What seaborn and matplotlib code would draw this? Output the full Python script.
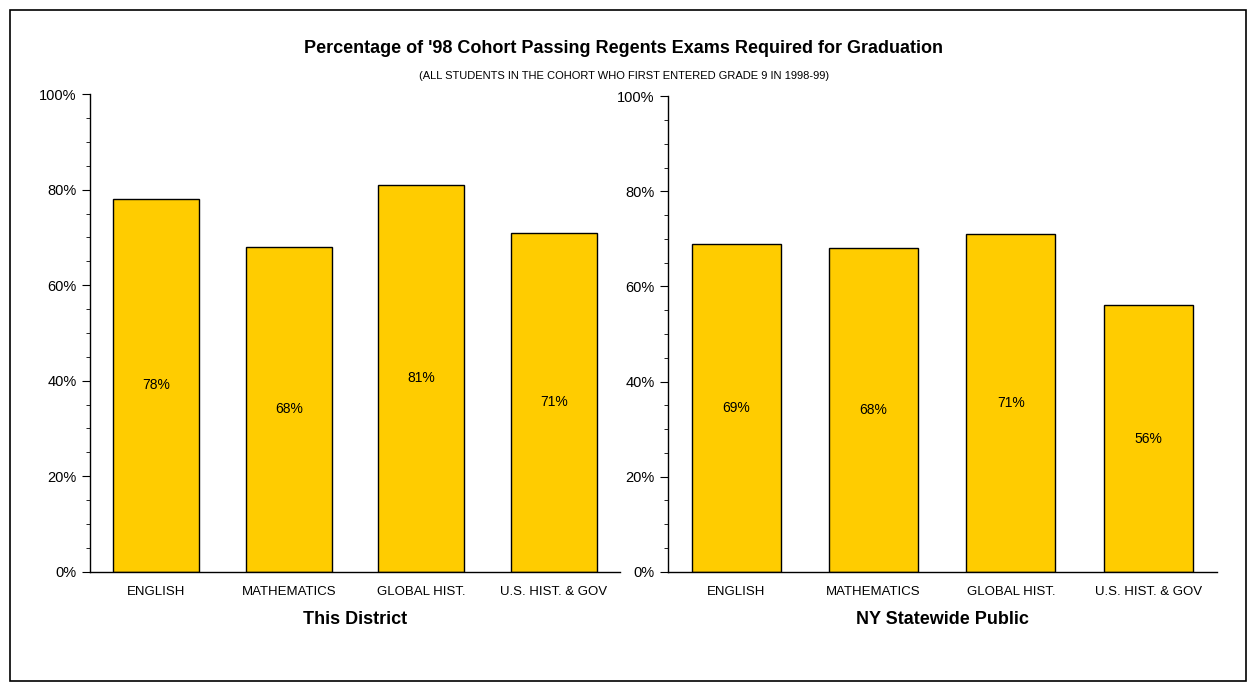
import matplotlib.pyplot as plt
import matplotlib.ticker as ticker
import pandas as pd
import seaborn as sns

sns.set_style("white")
plt.rcParams["font.family"] = ["Liberation Sans", "DejaVu Sans"]
plt.rcParams["text.color"] = "black"
plt.rcParams["axes.labelcolor"] = "black"
plt.rcParams["xtick.color"] = "black"
plt.rcParams["ytick.color"] = "black"

subjects = ["ENGLISH", "MATHEMATICS", "GLOBAL HIST.", "U.S. HIST. & GOV"]
district = [78, 68, 81, 71]
statewide = [69, 68, 71, 56]
panel_titles = ["This District", "NY Statewide Public"]

fig = plt.figure(figsize=(12.48, 6.83), dpi=100)
fig.patches.append(plt.Rectangle((0.008, 0.003), 0.99, 0.982, transform=fig.transFigure,
                                 fill=False, edgecolor="black", linewidth=1.2))
ax1 = fig.add_axes([0.072, 0.163, 0.425, 0.699])
ax2 = fig.add_axes([0.535, 0.163, 0.44, 0.696])

for ax, vals, title in zip([ax1, ax2], [district, statewide], panel_titles):
    df = pd.DataFrame({"subject": subjects, "pct": vals})
    sns.barplot(data=df, x="subject", y="pct", ax=ax, color="#FFCC00",
                saturation=1, edgecolor="black", linewidth=1, width=0.65)
    for i, v in enumerate(vals):
        ax.text(i, v / 2, f"{v}%", ha="center", va="center", fontsize=10)
    ax.set_ylim(0, 100)
    ax.yaxis.set_major_locator(ticker.MultipleLocator(20))
    ax.yaxis.set_minor_locator(ticker.MultipleLocator(5))
    ax.yaxis.set_major_formatter(ticker.FuncFormatter(lambda y, p: f"{int(y)}%"))
    ax.tick_params(axis="y", which="major", direction="out", length=6, left=True, labelsize=10.5)
    ax.tick_params(axis="y", which="minor", direction="out", length=3, left=True)
    ax.tick_params(axis="x", length=0, labelsize=9.5, pad=10)
    for s in ["top", "right"]:
        ax.spines[s].set_visible(False)
    for s in ["left", "bottom"]:
        ax.spines[s].set_color("black")
        ax.spines[s].set_linewidth(1)
    ax.set_ylabel("")
    ax.set_xlabel(title, fontsize=13, fontweight="bold", labelpad=10)

fig.text(0.5, 0.922, "Percentage of '98 Cohort Passing Regents Exams Required for Graduation",
         ha="center", fontsize=13, fontweight="bold")
fig.text(0.5, 0.884, "(ALL STUDENTS IN THE COHORT WHO FIRST ENTERED GRADE 9 IN 1998-99)",
         ha="center", fontsize=8)

fig.savefig("out.png", dpi=100)
